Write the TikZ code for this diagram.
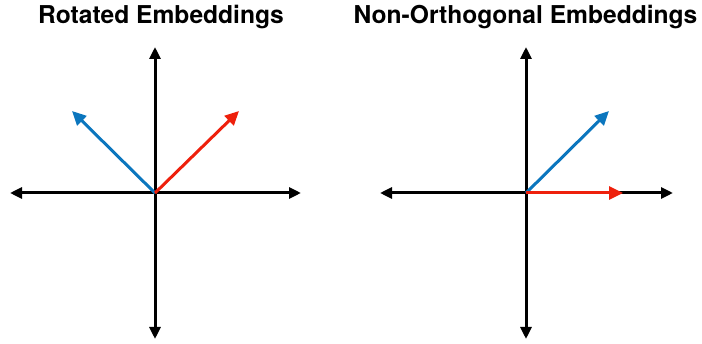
\documentclass[tikz,border=0pt]{standalone}
\usepackage{fontspec}
\setmainfont{TeX Gyre Heros}
\usetikzlibrary{arrows.meta}
\definecolor{vecblue}{RGB}{11,118,190}
\definecolor{vecred}{RGB}{238,32,12}
\begin{document}
\begin{tikzpicture}[x=1pt, y=-1pt,
    axis/.style={line width=3pt, -{Triangle[length=12pt, width=11pt]}},
    vec/.style={line width=3pt, -{Triangle[length=14pt, width=13pt]}},
    heading/.style={anchor=base, font=\fontsize{24.6}{28}\selectfont\bfseries, inner sep=0pt}]
    \useasboundingbox (0,0) rectangle (702,344);
    % left panel
    \node[heading] (titleL) at (161,24) {Rotated Embeddings};
    \coordinate (oL) at (155,193);
    \coordinate (leftL) at (10,193);
    \coordinate (rightL) at (301,193);
    \coordinate (upL) at (155,47);
    \coordinate (downL) at (155,339);
    \draw[axis] (oL) -- (leftL);
    \draw[axis] (oL) -- (rightL);
    \draw[axis] (oL) -- (upL);
    \draw[axis] (oL) -- (downL);
    \coordinate (bL) at (72,111);
    \coordinate (rL) at (239,111);
    \draw[vec, vecblue] (oL) -- (bL);
    \draw[vec, vecred] (oL) -- (rL);
    % right panel
    \node[heading] (titleR) at (525.5,24) {Non-Orthogonal Embeddings};
    \coordinate (oR) at (526,193);
    \coordinate (leftR) at (380,193);
    \coordinate (rightR) at (673,193);
    \coordinate (upR) at (526,47);
    \coordinate (downR) at (526,339);
    \draw[axis] (oR) -- (leftR);
    \draw[axis] (oR) -- (rightR);
    \draw[axis] (oR) -- (upR);
    \draw[axis] (oR) -- (downR);
    \coordinate (bR) at (609,111);
    \coordinate (rR) at (623,193);
    \draw[vec, vecblue] (oR) -- (bR);
    \draw[vec, vecred] (oR) -- (rR);
\end{tikzpicture}
\end{document}
